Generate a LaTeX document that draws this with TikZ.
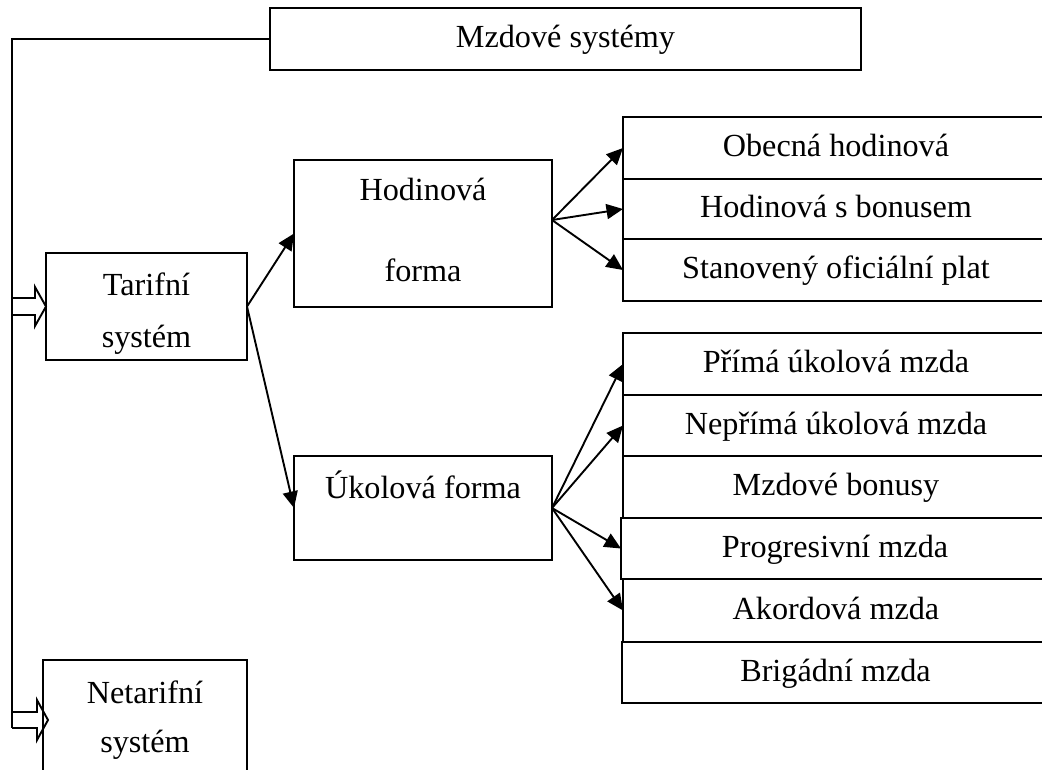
\documentclass[tikz,border=0pt]{standalone}
\usepackage{fontspec}
\setmainfont{Liberation Serif}
\usetikzlibrary{arrows.meta,calc}
\begin{document}
\begin{tikzpicture}[x=1pt,y=-1pt,
  every node/.style={font=\fontsize{32.2}{38}\selectfont},
  box/.style={draw, line width=1.9pt, inner sep=0pt, outer sep=0pt},
  rbox/.style={box, text height=23pt, text depth=6pt},
  txt/.style={anchor=base, inner sep=0pt},
  conn/.style={line width=1.9pt, -{Triangle[length=16.5pt,width=15pt]}},
  hollow/.style={line width=1.9pt, line join=miter},
  trunk/.style={line width=1.9pt}]
\useasboundingbox (0,0) rectangle (1042,769);
\clip (0,0) rectangle (1042,769);

% top box
\node[rbox, minimum width=591pt, minimum height=62pt] (top) at (565.5,39) {Mzdové systémy};

% left boxes
\node[box, minimum width=201pt, minimum height=107pt] (tar) at (146.5,306.5) {};
\node[txt] (tar1) at (146.5,295) {Tarifní};
\node[txt] (tar2) at (146.5,347) {systém};

\node[box, minimum width=204pt, minimum height=130pt] (nat) at (145,725) {};
\node[txt] (nat1) at (145,703) {Netarifní};
\node[txt] (nat2) at (145,752) {systém};

% middle boxes
\node[box, minimum width=258pt, minimum height=147pt] (hod) at (423,233.5) {};
\node[txt] (hod1) at (423,200) {Hodinová};
\node[txt] (hod2) at (423,281) {forma};

\node[box, minimum width=258pt, minimum height=104pt] (uko) at (423,508) {};
\node[txt] (uko1) at (423,498) {Úkolová forma};

% right column, upper group
\node[rbox, minimum width=426pt, minimum height=62pt] (r1) at (836,148) {Obecná hodinová};
\node[rbox, minimum width=426pt, minimum height=60pt] (r2) at (836,209) {Hodinová s bonusem};
\node[rbox, minimum width=426pt, minimum height=62pt] (r3) at (836,270) {Stanovený oficiální plat};

% right column, lower group
\node[rbox, minimum width=426pt, minimum height=62pt] (s1) at (836,364) {Přímá úkolová mzda};
\node[rbox, minimum width=426pt, minimum height=61pt] (s2) at (836,425.5) {Nepřímá úkolová mzda};
\node[rbox, minimum width=426pt, minimum height=62pt] (s3) at (836,487) {Mzdové bonusy};
\node[rbox, minimum width=428pt, minimum height=61pt] (s4) at (835,548.5) {Progresivní mzda};
\node[rbox, minimum width=426pt, minimum height=63pt] (s5) at (836,610.5) {Akordová mzda};
\node[rbox, minimum width=427pt, minimum height=61pt] (s6) at (835.5,672.5) {Brigádní mzda};

% trunk line
\coordinate (corner) at (12,39);
\coordinate (trunkend) at (12,728);
\draw[trunk] (top.west) -- (corner) -- (trunkend);

% hollow arrows
\draw[hollow] ($(tar.west)+(-34,-8.5)$) -- ($(tar.west)+(-11,-8.5)$) -- ($(tar.west)+(-11,-19.5)$)
  -- (tar.west) -- ($(tar.west)+(-11,19.5)$) -- ($(tar.west)+(-11,8.5)$) -- ($(tar.west)+(-34,8.5)$);
\coordinate (natin) at (48,720);
\draw[hollow] ($(natin)+(-36,-8)$) -- ($(natin)+(-11,-8)$) -- ($(natin)+(-11,-20)$)
  -- (natin) -- ($(natin)+(-11,20)$) -- ($(natin)+(-11,8)$) -- ($(natin)+(-36,8)$);

% connectors
\draw[conn] (tar.east) -- (hod.west);
\draw[conn] (tar.east) -- (uko.west);
\coordinate (hsrc) at ($(hod.east)+(0,-13.5)$);
\draw[conn] (hsrc) -- (r1.west);
\draw[conn] (hsrc) -- (r2.west);
\draw[conn] (hsrc) -- (r3.west);
\draw[conn] (uko.east) -- (s1.west);
\draw[conn] (uko.east) -- (s2.west);
\draw[conn] (uko.east) -- (s4.west);
\draw[conn] (uko.east) -- (s5.west);
\end{tikzpicture}
\end{document}
